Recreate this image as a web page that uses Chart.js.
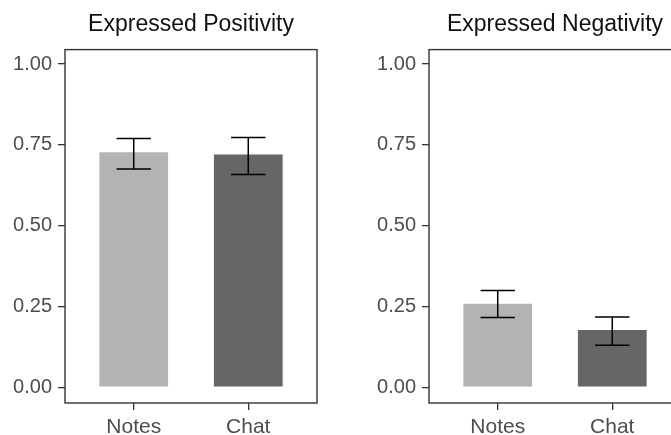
<!DOCTYPE html>
<html>
<head>
<meta charset="utf-8">
<script src="https://cdn.jsdelivr.net/npm/chart.js@4.4.0/dist/chart.umd.min.js"></script>
<style>
  html, body { margin: 0; padding: 0; background: #fff; overflow: hidden; width: 671px; height: 435px; }
  .panel { position: absolute; top: 0; }
</style>
</head>
<body>
<div class="panel" style="left:0"><canvas id="posChart" width="340" height="435"></canvas></div>
<div class="panel" style="left:364px"><canvas id="negChart" width="340" height="435"></canvas></div>
<script>
const categories = ['Notes', 'Chat'];
const barColors = ['#B3B3B3', '#666666'];
const yTicks = [0, 0.25, 0.5, 0.75, 1];

const positivityMeans = [0.727, 0.720];
const positivityLow = [0.675, 0.658];
const positivityHigh = [0.770, 0.773];

const negativityMeans = [0.258, 0.177];
const negativityLow = [0.216, 0.130];
const negativityHigh = [0.299, 0.217];

const FONT = "'Liberation Sans', Arial, sans-serif";

// error bars + panel border
const errorBarPlugin = {
    id: 'errorBars',
    afterDatasetsDraw(chart, args, opts) {
        const ctx = chart.ctx;
        const x = chart.scales.x, y = chart.scales.y;
        ctx.save();
        ctx.strokeStyle = '#000';
        ctx.lineWidth = 1.5;
        opts.low.forEach((lo, i) => {
            const cx = x.getPixelForValue(i + 1);
            const x0 = x.getPixelForValue(i + 1 - 0.15);
            const x1 = x.getPixelForValue(i + 1 + 0.15);
            const yl = y.getPixelForValue(lo);
            const yh = y.getPixelForValue(opts.high[i]);
            ctx.beginPath();
            ctx.moveTo(cx, yl); ctx.lineTo(cx, yh);
            ctx.moveTo(x0, yl); ctx.lineTo(x1, yl);
            ctx.moveTo(x0, yh); ctx.lineTo(x1, yh);
            ctx.stroke();
        });
        const a = chart.chartArea;
        ctx.strokeStyle = '#333';
        ctx.lineWidth = 1.4;
        ctx.strokeRect(a.left, a.top, a.right - a.left, a.bottom - a.top);
        ctx.restore();
    }
};

function makeChart(id, title, means, low, high) {
    const ctx = document.getElementById(id).getContext('2d');
    return new Chart(ctx, {
        type: 'bar',
        data: {
            datasets: [{
                data: means.map((v, i) => ({ x: i + 1, y: v })),
                backgroundColor: barColors,
                borderWidth: 0,
                categoryPercentage: 1,
                barPercentage: 0.6
            }]
        },
        options: {
            responsive: false,
            animation: false,
            layout: { padding: { left: 0, right: 23, top: 0, bottom: 0 } },
            plugins: {
                legend: { display: false },
                tooltip: { enabled: false },
                title: {
                    display: true,
                    fullSize: false,
                    text: title,
                    color: '#111',
                    font: { family: FONT, size: 23, weight: 'normal' },
                    padding: { top: 11, bottom: 11 }
                },
                errorBars: { low: low, high: high }
            },
            scales: {
                x: {
                    type: 'linear',
                    min: 0.4,
                    max: 2.6,
                    offset: false,
                    afterBuildTicks: s => { s.ticks = categories.map((c, i) => ({ value: i + 1 })); },
                    afterFit: s => { s.height = 32; },
                    ticks: {
                        callback: (v) => categories[v - 1],
                        color: '#4D4D4D',
                        font: { family: FONT, size: 21 },
                        padding: 5,
                        maxRotation: 0
                    },
                    grid: { offset: false, drawOnChartArea: false, drawTicks: true, tickLength: 7, color: '#333', lineWidth: 1.3 },
                    border: { display: false }
                },
                y: {
                    min: -0.049,
                    max: 1.045,
                    afterBuildTicks: s => { s.ticks = yTicks.map(v => ({ value: v })); },
                    afterFit: s => { s.width = 65; },
                    ticks: {
                        callback: v => Number(v).toFixed(2),
                        color: '#4D4D4D',
                        font: { family: FONT, size: 20 },
                        padding: 6
                    },
                    grid: { drawOnChartArea: false, drawTicks: true, tickLength: 7, color: '#333', lineWidth: 1.3 },
                    border: { display: false }
                }
            }
        },
        plugins: [errorBarPlugin]
    });
}

makeChart('posChart', 'Expressed Positivity', positivityMeans, positivityLow, positivityHigh);
makeChart('negChart', 'Expressed Negativity', negativityMeans, negativityLow, negativityHigh);
</script>
</body>
</html>
